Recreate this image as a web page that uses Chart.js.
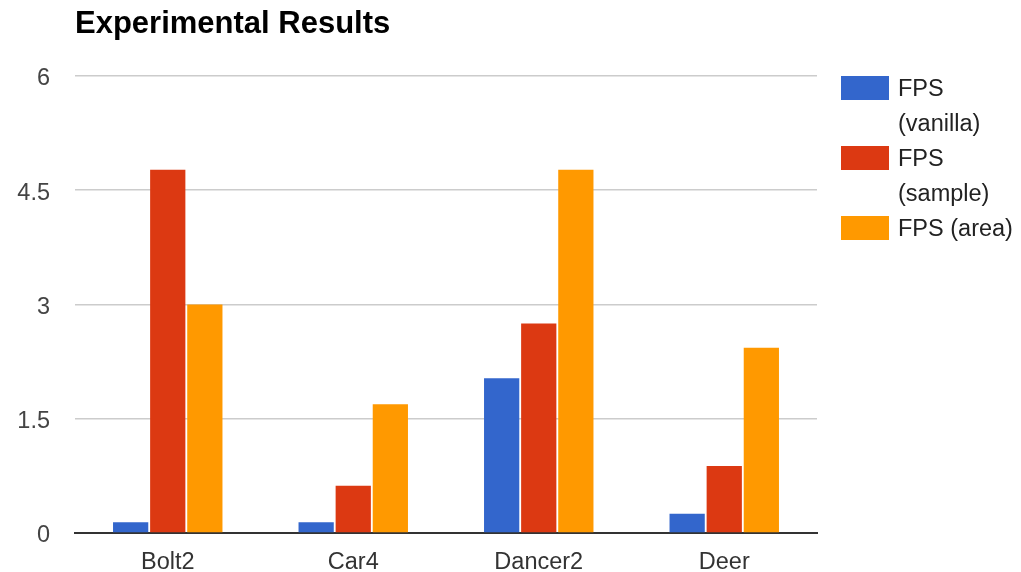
<!DOCTYPE html>
<html>
<head>
<meta charset="utf-8">
<script src="https://cdn.jsdelivr.net/npm/chart.js@4/dist/chart.umd.min.js"></script>
<style>
  html, body { margin: 0; padding: 0; background: #fff; }
  #wrap { width: 1021px; height: 572px; position: relative; }
</style>
</head>
<body>
<div id="wrap"><canvas id="c" width="1021" height="572"></canvas></div>
<script>
// Chart content
const chartTitle = 'Experimental Results';
const categories = ['Bolt2', 'Car4', 'Dancer2', 'Deer'];
const seriesNames = ['FPS (vanilla)', 'FPS (sample)', 'FPS (area)'];
const fpsVanilla = [0.14, 0.14, 2.03, 0.25];
const fpsSample = [4.77, 0.62, 2.75, 0.88];
const fpsArea = [3.0, 1.69, 4.77, 2.43];
const yTicks = [0, 1.5, 3, 4.5, 6];

const seriesColors = ['#3366cc', '#dc3912', '#ff9900'];
const FONT = '"Liberation Sans", Arial, sans-serif';
const LABEL_SIZE = 23.5;

// Title drawn flush with the plot's left edge, legend drawn in the right margin
const titleAndLegend = {
  id: 'titleAndLegend',
  afterDraw(chart) {
    const ctx = chart.ctx;
    const area = chart.chartArea;
    ctx.save();
    ctx.fillStyle = '#000';
    ctx.font = 'bold 31px ' + FONT;
    ctx.textAlign = 'left';
    ctx.textBaseline = 'middle';
    ctx.fillText(chartTitle, area.left, 24);

    const boxX = area.right + 24, boxW = 48, boxH = 24;
    const textX = boxX + boxW + 9;
    const maxW = chart.width - textX - 2;
    const lineH = 35;
    let y = area.top + 12;
    ctx.font = LABEL_SIZE + 'px ' + FONT;
    chart.data.datasets.forEach(ds => {
      // word wrap the series name into the available width
      const words = ds.label.split(' ');
      const lines = [];
      let cur = '';
      words.forEach(w => {
        const t = cur ? cur + ' ' + w : w;
        if (cur && ctx.measureText(t).width > maxW) { lines.push(cur); cur = w; }
        else cur = t;
      });
      if (cur) lines.push(cur);
      ctx.fillStyle = ds.backgroundColor;
      ctx.fillRect(boxX, Math.round(y - boxH / 2), boxW, boxH);
      ctx.fillStyle = '#222';
      lines.forEach((ln, i) => ctx.fillText(ln, textX, y + i * lineH + 2));
      y += lines.length * lineH;
    });
    ctx.restore();
  }
};

const seriesValues = [fpsVanilla, fpsSample, fpsArea];

new Chart(document.getElementById('c'), {
  type: 'bar',
  data: {
    labels: categories,
    datasets: seriesNames.map((name, i) => ({
      label: name,
      data: seriesValues[i],
      backgroundColor: seriesColors[i],
      borderWidth: 0,
      categoryPercentage: 0.6,
      barPercentage: 0.95
    }))
  },
  options: {
    responsive: false,
    animation: false,
    devicePixelRatio: 1,
    layout: { padding: { top: 76, right: 204, bottom: 0, left: 0 } },
    plugins: {
      legend: { display: false },
      title: { display: false },
      tooltip: { enabled: false }
    },
    scales: {
      x: {
        grid: { display: false, drawTicks: false },
        border: { display: true, color: '#333', width: 2 },
        ticks: {
          color: '#333',
          font: { family: FONT, size: LABEL_SIZE },
          padding: 16
        },
        afterFit(scale) { scale.height = 39; }
      },
      y: {
        min: 0,
        max: 6,
        afterBuildTicks(scale) { scale.ticks = yTicks.map(v => ({ value: v })); },
        grid: { color: '#cccccc', lineWidth: 1.5, drawTicks: false },
        border: { display: false },
        ticks: {
          color: '#444',
          font: { family: FONT, size: LABEL_SIZE },
          padding: 25,
          labelOffset: 3,
          callback: v => String(v)
        },
        afterFit(scale) { scale.width = 75; }
      }
    }
  },
  plugins: [titleAndLegend]
});
</script>
</body>
</html>
